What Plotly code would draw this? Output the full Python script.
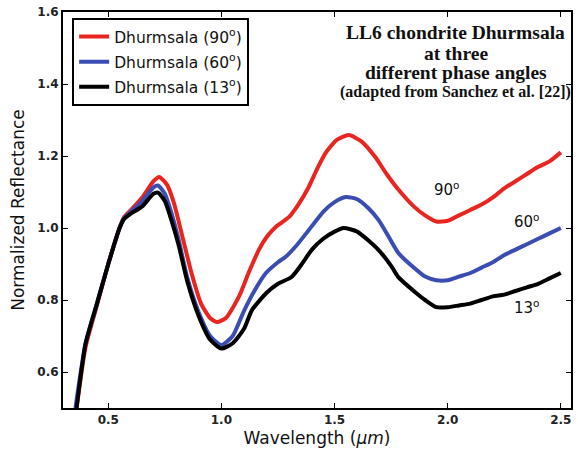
import plotly.graph_objects as go

# ---- data ----
wl_13 = [0.36, 0.40, 0.45, 0.50, 0.55, 0.57, 0.60, 0.65, 0.70, 0.72, 0.75, 0.78, 0.81, 0.85, 0.90,
         0.95, 1.00, 1.05, 1.10, 1.135, 1.20, 1.25, 1.31, 1.35, 1.40, 1.45, 1.50, 1.54, 1.60, 1.65,
         1.70, 1.75, 1.78, 1.85, 1.90, 1.95, 2.00, 2.05, 2.10, 2.15, 2.20, 2.25, 2.30, 2.35, 2.40,
         2.45, 2.50]
refl_13 = [0.50, 0.68, 0.79, 0.90, 1.00, 1.025, 1.04, 1.06, 1.095, 1.098, 1.075, 1.02, 0.955, 0.85, 0.755,
           0.69, 0.665, 0.68, 0.72, 0.772, 0.82, 0.845, 0.864, 0.895, 0.94, 0.97, 0.99, 1.0, 0.99, 0.965,
           0.935, 0.895, 0.865, 0.825, 0.80, 0.78, 0.78, 0.785, 0.79, 0.80, 0.81, 0.815, 0.825, 0.835, 0.845,
           0.86, 0.875]

wl_60 = [0.355, 0.40, 0.45, 0.50, 0.55, 0.57, 0.60, 0.65, 0.70, 0.72, 0.75, 0.78, 0.81, 0.85, 0.90,
         0.95, 1.00, 1.05, 1.10, 1.15, 1.197, 1.25, 1.284, 1.33, 1.386, 1.45, 1.50, 1.55, 1.60, 1.65,
         1.695, 1.74, 1.783, 1.85, 1.90, 1.95, 2.00, 2.05, 2.10, 2.15, 2.20, 2.25, 2.30, 2.35, 2.40,
         2.45, 2.50]
refl_60 = [0.50, 0.68, 0.79, 0.90, 1.00, 1.027, 1.045, 1.075, 1.113, 1.118, 1.095, 1.04, 0.97, 0.86, 0.765,
           0.70, 0.675, 0.70, 0.77, 0.83, 0.875, 0.905, 0.92, 0.95, 0.994, 1.045, 1.072, 1.086, 1.08, 1.055,
           1.022, 0.975, 0.93, 0.89, 0.865, 0.855, 0.855, 0.865, 0.875, 0.89, 0.905, 0.925, 0.94, 0.955, 0.97,
           0.985, 1.00]

wl_90 = [0.36, 0.40, 0.45, 0.50, 0.55, 0.57, 0.60, 0.65, 0.70, 0.725, 0.76, 0.79, 0.83, 0.87, 0.91,
         0.95, 0.98, 1.02, 1.078, 1.12, 1.166, 1.20, 1.24, 1.298, 1.34, 1.386, 1.42, 1.46, 1.51, 1.563,
         1.62, 1.68, 1.73, 1.783, 1.85, 1.90, 1.95, 2.00, 2.05, 2.10, 2.15, 2.20, 2.25, 2.30, 2.35,
         2.40, 2.45, 2.50]
refl_90 = [0.50, 0.67, 0.785, 0.90, 1.00, 1.03, 1.05, 1.085, 1.13, 1.142, 1.12, 1.07, 0.97, 0.87, 0.79,
           0.75, 0.739, 0.75, 0.81, 0.875, 0.94, 0.975, 1.003, 1.03, 1.065, 1.114, 1.16, 1.208, 1.245, 1.258,
           1.24, 1.197, 1.15, 1.106, 1.06, 1.035, 1.018, 1.02, 1.035, 1.05, 1.065, 1.085, 1.11, 1.13, 1.15,
           1.17, 1.185, 1.21]

series_names = ["Dhurmsala (90<sup>o</sup>)", "Dhurmsala (60<sup>o</sup>)", "Dhurmsala (13<sup>o</sup>)"]
series_colors = ["#e8251e", "#3a4db3", "#000000"]

x_ticks = [0.5, 1.0, 1.5, 2.0, 2.5]
y_ticks = [0.6, 0.8, 1.0, 1.2, 1.4, 1.6]

angle_labels = ["90<sup>o</sup>", "60<sup>o</sup>", "13<sup>o</sup>"]
angle_label_x = [1.995, 2.35, 2.35]
angle_label_y = [1.108, 1.02, 0.78]

title_lines = ["LL6 chondrite Dhurmsala", "at three", "different phase angles",
               "(adapted from Sanchez et al. [22])"]

fig = go.Figure()
for i, (wl, refl) in enumerate([(wl_90, refl_90), (wl_60, refl_60), (wl_13, refl_13)]):
    fig.add_trace(go.Scatter(x=wl, y=refl, mode="lines", name=series_names[i],
                             legendgroup="g%d" % i,
                             line=dict(color=series_colors[i], width=4, shape="spline", smoothing=0.6)))

for txt, xx, yy in zip(angle_labels, angle_label_x, angle_label_y):
    fig.add_annotation(x=xx, y=yy, xref="x", yref="y", text=txt, showarrow=False,
                       font=dict(family="DejaVu Sans", size=15, color="#111"))

title_y = [0.947, 0.896, 0.848, 0.797]
title_size = [19.5, 19.5, 19.5, 16]
for txt, yy, sz in zip(title_lines, title_y, title_size):
    fig.add_annotation(x=0.773, y=yy, xref="paper", yref="paper", text="<b>" + txt + "</b>",
                       showarrow=False, xanchor="center", yanchor="middle",
                       font=dict(family="Liberation Serif", size=sz, color="#111"))

axis_common = dict(showline=True, linecolor="black", linewidth=2, mirror="ticks",
                   ticks="inside", ticklen=5, tickwidth=1, tickcolor="black",
                   showgrid=False, zeroline=False,
                   tickfont=dict(family="DejaVu Sans", size=12, color="#222", weight="bold"))

fig.update_xaxes(range=[0.3, 2.545], tickvals=x_ticks, tickformat=".1f",
                 title=dict(text="Wavelength (<i>μm</i>)", standoff=6,
                            font=dict(family="DejaVu Sans", size=17, color="#111")),
                 **axis_common)
fig.update_yaxes(range=[0.5, 1.6], tickvals=y_ticks, tickformat=".1f",
                 title=dict(text="Normalized Reflectance", standoff=8,
                            font=dict(family="DejaVu Sans", size=17, color="#111")),
                 **axis_common)

fig.update_layout(
    width=578, height=458,
    margin=dict(l=63, r=5, t=12, b=50),
    plot_bgcolor="white", paper_bgcolor="white",
    legend=dict(x=0.018, y=0.985, xanchor="left", yanchor="top",
                bgcolor="white", bordercolor="black", borderwidth=2,
                font=dict(family="DejaVu Sans", size=15.5, color="#111"),
                tracegroupgap=2),
    showlegend=True,
)

fig.write_html("out.html")
